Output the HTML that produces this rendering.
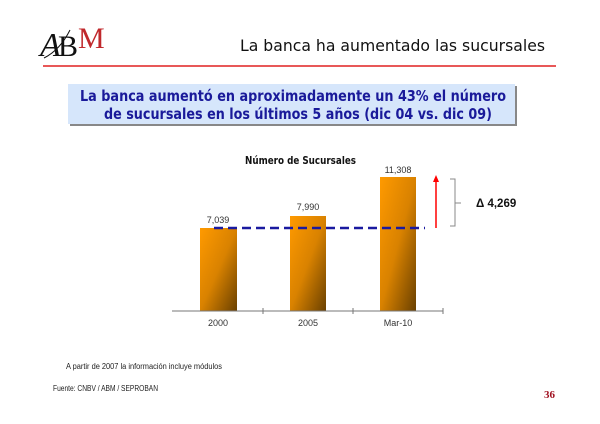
<!DOCTYPE html>
<html><head><meta charset="utf-8"><style>
body{margin:0;width:600px;height:424px;background:#fff;overflow:hidden;position:relative;font-family:"Liberation Sans",sans-serif}
</style></head><body>
<svg width="600" height="424" style="position:absolute;left:0;top:0" font-family="Liberation Sans, sans-serif">
<defs>
<linearGradient id="g" x1="0" y1="0" x2="1" y2="1">
<stop offset="0" stop-color="#ff9a00"/><stop offset="0.5" stop-color="#d98200"/><stop offset="1" stop-color="#6a4000"/>
</linearGradient>
</defs>
<text x="40" y="56" font-family="Liberation Serif, serif" font-size="34" fill="#111" font-style="italic">A</text>
<text x="58" y="56" font-family="Liberation Serif, serif" font-size="30" fill="#111">B</text>
<text x="78" y="48" font-family="Liberation Serif, serif" font-size="30" fill="#c0282c">M</text>
<path d="M44 58 Q60 50 70 30" stroke="#111" fill="none" stroke-width="1"/>
<text x="240" y="51" textLength="305" lengthAdjust="spacingAndGlyphs" font-size="16" fill="#111" font-family="DejaVu Sans, sans-serif">La banca ha aumentado las sucursales</text>
<line x1="43" y1="66" x2="556" y2="66" stroke="#e02020" stroke-width="1.5"/>
<rect x="70" y="86" width="447" height="40" fill="#888"/>
<rect x="68" y="84" width="447" height="40" fill="#d6e6fb"/>
<text x="80" y="101" textLength="426" lengthAdjust="spacingAndGlyphs" font-size="15" font-weight="bold" fill="#1a1a9a" font-family="DejaVu Sans, sans-serif">La banca aumentó en aproximadamente un 43% el número</text>
<text x="104" y="119" textLength="388" lengthAdjust="spacingAndGlyphs" font-size="15" font-weight="bold" fill="#1a1a9a" font-family="DejaVu Sans, sans-serif">de sucursales en los últimos 5 años (dic 04 vs. dic 09)</text>
<text x="245" y="164" textLength="111" lengthAdjust="spacingAndGlyphs" font-size="10.5" font-weight="bold" fill="#111" font-family="DejaVu Sans, sans-serif">Número de Sucursales</text>
<rect x="200" y="228" width="37" height="83" fill="url(#g)"/>
<rect x="290" y="216" width="36" height="95" fill="url(#g)"/>
<rect x="380" y="177" width="36" height="134" fill="url(#g)"/>
<g font-size="9" fill="#333" text-anchor="middle">
<text x="218" y="223">7,039</text><text x="308" y="210">7,990</text><text x="398" y="173">11,308</text>
<text x="218" y="326">2000</text><text x="308" y="326">2005</text><text x="398" y="326">Mar-10</text>
</g>
<line x1="172" y1="311" x2="443" y2="311" stroke="#777"/>
<line x1="263" y1="308" x2="263" y2="314" stroke="#777"/>
<line x1="353" y1="308" x2="353" y2="314" stroke="#777"/>
<line x1="443" y1="308" x2="443" y2="314" stroke="#777"/>
<line x1="214" y1="228" x2="425" y2="228" stroke="#1a1aa0" stroke-width="2.5" stroke-dasharray="9,5"/>
<line x1="436" y1="228" x2="436" y2="180" stroke="#ff0000" stroke-width="1.5"/>
<polygon points="433,182 436,175 439,182" fill="#ff0000"/>
<path d="M450 179 H455 V226 H450 M455 203 H461" stroke="#888" fill="none"/>
<text x="476" y="207" font-size="11.5" font-weight="bold" fill="#111">Δ 4,269</text>
<text x="66" y="369" textLength="156" lengthAdjust="spacingAndGlyphs" font-size="8" fill="#222">A partir de 2007 la información incluye módulos</text>
<text x="53" y="391" textLength="105" lengthAdjust="spacingAndGlyphs" font-size="8" fill="#222">Fuente: CNBV / ABM / SEPROBAN</text>
<text x="544" y="398" font-size="11" font-weight="bold" fill="#a01020" font-family="Liberation Serif, serif">36</text>
</svg>
</body></html>
